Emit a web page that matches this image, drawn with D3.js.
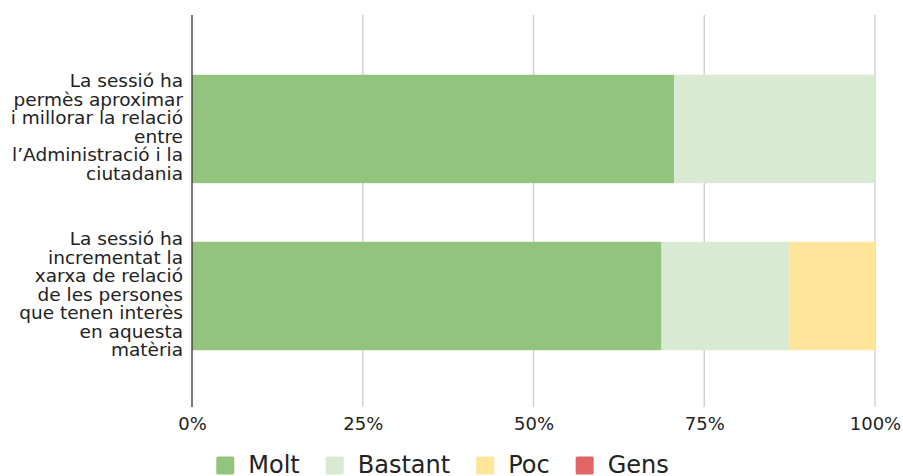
<!DOCTYPE html>
<html>
<head>
<meta charset="utf-8">
<script src="https://cdn.jsdelivr.net/npm/d3@7"></script>
<style>
  body { margin: 0; background: #fff; }
  text { font-family: "DejaVu Sans", Verdana, sans-serif; fill: #222; }
</style>
</head>
<body>
<div id="chart"></div>
<script>
var width = 903, height = 476
var margin = { top: 15, left: 192, right: 28, bottom: 69 }
var plotW = width - margin.left - margin.right
var plotH = height - margin.top - margin.bottom

// data
var questions = [
    ["La sessió ha", "permès aproximar", "i millorar la relació", "entre", "l\u2019Administració i la", "ciutadania"],
    ["La sessió ha", "incrementat la", "xarxa de relació", "de les persones", "que tenen interès", "en aquesta", "matèria"]
]
var series = ["Molt", "Bastant", "Poc", "Gens"]
var molt = [70.59, 68.75]
var bastant = [29.41, 18.75]
var poc = [0, 12.5]
var gens = [0, 0]
var xTicks = [0, 25, 50, 75, 100]
var colors = ["#93c47d", "#d9ead3", "#ffe599", "#e06666"]

var rows = questions.map(function(q, i) {
    return { id: i, Molt: molt[i], Bastant: bastant[i], Poc: poc[i], Gens: gens[i] }
})

var svg = d3.select("#chart").append("svg")
    .attr("width", width)
    .attr("height", height)

var g = svg.append("g")
    .attr("transform", "translate(" + margin.left + "," + margin.top + ")")

var x = d3.scaleLinear().domain([0, 100]).range([0, plotW])
var y = d3.scaleBand().domain(rows.map(function(d) { return d.id }))
    .range([3, plotH]).paddingInner(0.351).paddingOuter(0.34)
var color = d3.scaleOrdinal().domain(series).range(colors)

// grid
g.selectAll(".grid").data(xTicks.slice(1)).enter()
    .append("line")
    .attr("class", "grid")
    .attr("x1", function(d) { return x(d) }).attr("x2", function(d) { return x(d) })
    .attr("y1", 0).attr("y2", plotH)
    .attr("stroke", "#cccccc").attr("stroke-width", 1.3)

// bars
var stack = d3.stack().keys(series)(rows)
g.selectAll(".layer").data(stack).enter()
    .append("g")
    .attr("class", "layer")
    .attr("fill", function(d) { return color(d.key) })
    .selectAll("rect").data(function(d) { return d }).enter()
    .append("rect")
    .attr("x", function(d) { return x(d[0]) })
    .attr("width", function(d) { return x(d[1]) - x(d[0]) })
    .attr("y", function(d) { return y(d.data.id) })
    .attr("height", y.bandwidth())

// left axis line
g.append("line")
    .attr("x1", 0).attr("x2", 0).attr("y1", 0).attr("y2", plotH)
    .attr("stroke", "#333").attr("stroke-width", 1.3)

// x tick labels
g.append("g")
    .attr("transform", "translate(0," + plotH + ")")
    .call(d3.axisBottom(x).tickValues(xTicks).tickSize(0).tickPadding(10)
        .tickFormat(function(d) { return d + "%" }))
    .call(function(a) { a.select(".domain").remove() })
    .selectAll("text")
    .style("font-size", "18px")
    .attr("fill", "#222")

// y labels
var lineH = 18.5
rows.forEach(function(r, i) {
    var lines = questions[i]
    var cy = y(r.id) + y.bandwidth() / 2
    var first = cy + 4.5 - (lines.length - 1) / 2 * lineH
    var t = g.append("text")
        .attr("text-anchor", "end")
        .style("font-size", "18.5px")
    lines.forEach(function(l, j) {
        t.append("tspan").attr("x", -9).attr("y", first + j * lineH).text(l)
    })
})

// legend
var legend = svg.append("g")
var lx = 0
series.forEach(function(s, i) {
    var item = legend.append("g").attr("transform", "translate(" + lx + ",0)")
    item.append("rect").attr("x", 0).attr("y", 456.5).attr("width", 18).attr("height", 18)
        .attr("rx", 1.5).attr("fill", color(s))
    var tx = item.append("text").attr("x", 32).attr("y", 472.5)
        .style("font-size", "24px").text(s)
    lx += 32 + tx.node().getComputedTextLength() + 26
})
var legW = lx - 26
legend.attr("transform", "translate(" + (442.5 - legW / 2) + ",0)")
</script>
</body>
</html>
